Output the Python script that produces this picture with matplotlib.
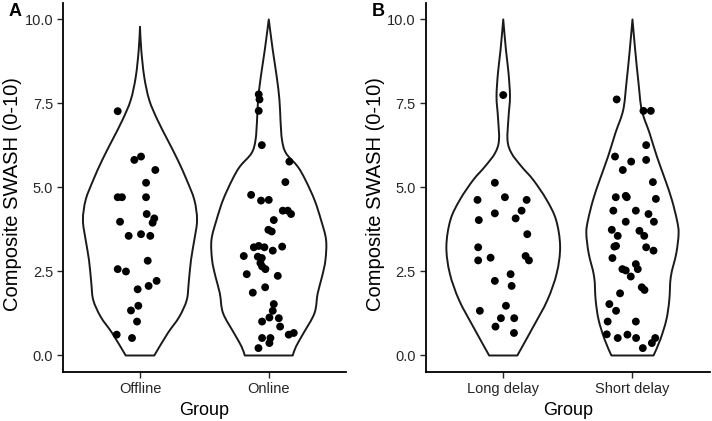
import numpy as np
import matplotlib
matplotlib.use("Agg")
import matplotlib.pyplot as plt
from matplotlib.path import Path
from matplotlib.patches import PathPatch

plt.rcParams['font.family'] = ['Liberation Sans', 'DejaVu Sans']

# ---------------------------------------------------------------
# Data
# ---------------------------------------------------------------
groups_a = ["Offline", "Online"]
groups_b = ["Long delay", "Short delay"]
yticks = [0.0, 2.5, 5.0, 7.5, 10.0]

# violin outlines: score level and half width (in category units)
offline_lv = [9.78, 9.09, 8.29, 7.60, 7.00, 6.41, 5.82, 5.22, 4.63, 4.03, 3.44, 2.84, 2.15, 1.65, 1.15, 0.66, 0.0]
offline_hw = [0, 0.010, 0.033, 0.072, 0.137, 0.215, 0.293, 0.363, 0.422, 0.443, 0.422, 0.396, 0.378, 0.363, 0.305, 0.215, 0.111]

online_lv = [10.0, 9.09, 8.29, 7.60, 7.00, 6.41, 6.02, 5.62, 5.22, 4.63, 4.03, 3.44, 2.84, 2.35, 1.85, 1.26, 0.66, 0.27, 0.0]
online_hw = [0, 0.031, 0.062, 0.083, 0.091, 0.103, 0.134, 0.225, 0.285, 0.355, 0.406, 0.445, 0.440, 0.414, 0.380, 0.355, 0.269, 0.212, 0.186]

long_lv = [10.0, 9.09, 8.4, 7.7, 7.1, 6.41, 6.02, 5.62, 5.22, 4.63, 4.03, 3.24, 2.45, 1.65, 0.86, 0.0]
long_hw = [0, 0.021, 0.041, 0.052, 0.041, 0.033, 0.064, 0.142, 0.233, 0.336, 0.409, 0.440, 0.414, 0.342, 0.233, 0.109]

short_lv = [10.0, 9.09, 8.1, 7.3, 6.62, 5.92, 5.22, 4.63, 4.03, 3.64, 3.04, 2.35, 1.65, 1.06, 0.47, 0.0]
short_hw = [0, 0.021, 0.047, 0.072, 0.132, 0.189, 0.254, 0.305, 0.344, 0.357, 0.339, 0.297, 0.285, 0.262, 0.215, 0.163]

# jittered points: horizontal offset from group centre, score
offline_dx = [-0.173, -0.044, 0.008, 0.119, 0.047, -0.173, -0.140, 0.047, 0.052, 0.111, 0.098, -0.155, -0.088,
              0.008, 0.080, 0.060, -0.173, -0.109, 0.129, 0.067, -0.018, -0.013, -0.070, -0.023, -0.181, -0.062]
offline_y = [7.27, 5.82, 5.92, 5.52, 5.14, 4.71, 4.71, 4.71, 4.21, 4.08, 3.95, 3.98, 3.56,
             3.61, 3.56, 2.82, 2.57, 2.50, 2.22, 2.07, 1.97, 1.48, 1.34, 1.01, 0.62, 0.52]

online_dx = [-0.078, -0.072, -0.078, -0.054, 0.160, 0.129, -0.137, -0.060, 0.0, 0.109, 0.148, 0.173, 0.039, -0.003,
             0.023, -0.116, -0.078, -0.034, 0.031, 0.104, -0.194, -0.085, -0.054, -0.065, -0.052, -0.026, -0.171,
             0.070, -0.028, -0.124, 0.039, 0.031, 0.005, 0.078, -0.052, 0.088, 0.155, 0.194, -0.052, 0.013, 0.005, -0.080]
online_y = [7.77, 7.62, 7.28, 6.26, 5.77, 5.16, 4.78, 4.61, 4.63, 4.31, 4.31, 4.21, 4.03, 3.74,
            3.69, 3.22, 3.26, 3.22, 3.12, 3.24, 2.96, 2.94, 2.90, 2.75, 2.65, 2.57, 2.42,
            2.37, 2.03, 1.87, 1.53, 1.33, 1.13, 1.11, 1.01, 0.86, 0.62, 0.67, 0.52, 0.52, 0.37, 0.22]

long_dx = [0.0, -0.065, -0.199, 0.013, 0.181, 0.142, -0.065, 0.096, -0.189, 0.186, -0.194, -0.194,
           -0.098, 0.173, 0.199, 0.057, -0.065, 0.065, -0.181, 0.021, -0.018, 0.085, -0.060, 0.083]
long_y = [7.75, 5.14, 4.63, 4.71, 4.63, 4.31, 4.23, 4.08, 4.03, 3.61, 3.22, 2.83,
          2.91, 2.96, 2.83, 2.42, 2.22, 2.07, 1.33, 1.48, 1.11, 1.11, 0.86, 0.67]

short_dx = [-0.122, 0.085, 0.142, 0.106, -0.135, -0.010, 0.106, -0.075, 0.158, -0.129, -0.052, -0.044, 0.181,
            -0.148, 0.026, 0.124, -0.052, 0.166, -0.160, -0.114, 0.054, 0.091, -0.127, -0.140, 0.106, 0.163,
            -0.155, -0.078, -0.052, -0.013, 0.026, 0.041, 0.072, 0.093, -0.096, -0.179, -0.127, -0.192, 0.026,
            -0.199, -0.114, -0.039, 0.028, 0.176, 0.150, 0.080]
short_y = [7.62, 7.28, 7.28, 6.26, 5.92, 5.77, 5.82, 5.52, 5.16, 4.71, 4.75, 4.71, 4.66,
           4.31, 4.31, 4.21, 3.98, 3.98, 3.74, 3.56, 3.71, 3.56, 3.26, 3.24, 3.22, 3.12,
           2.90, 2.57, 2.53, 2.35, 2.72, 2.57, 2.03, 1.95, 1.85, 1.53, 1.33, 1.01, 1.01,
           0.63, 0.52, 0.62, 0.52, 0.52, 0.37, 0.22]


def smooth_side(px, py):
    # Catmull-Rom through the read outline points, as cubic bezier pieces
    verts, codes = [], []
    n = len(px)
    P = list(zip(px, py))
    for k in range(n - 1):
        p0 = np.array(P[max(k - 1, 0)])
        p1 = np.array(P[k])
        p2 = np.array(P[k + 1])
        p3 = np.array(P[min(k + 2, n - 1)])
        c1 = p1 + (p2 - p0) / 6.0
        c2 = p2 - (p3 - p1) / 6.0
        verts += [tuple(c1), tuple(c2), tuple(p2)]
        codes += [Path.CURVE4] * 3
    return verts, codes


def violin_path(pos, lv, hw):
    lv = np.array(lv)
    hw = np.array(hw)
    # left side from top down, bottom edge, right side from bottom up
    verts = [(pos - hw[0], lv[0])]
    codes = [Path.MOVETO]
    v, c = smooth_side(pos - hw, lv)
    verts += v
    codes += c
    verts.append((pos + hw[-1], lv[-1]))
    codes.append(Path.LINETO)
    v, c = smooth_side((pos + hw)[::-1], lv[::-1])
    verts += v
    codes += c
    verts.append(verts[0])
    codes.append(Path.CLOSEPOLY)
    return Path(verts, codes)


def draw_panel(ax, labels, violins, points, tag):
    for i, (lv, hw) in enumerate(violins):
        patch = PathPatch(violin_path(i + 1, lv, hw), facecolor='white', edgecolor='#1a1a1a',
                          lw=1.4, joinstyle='round', zorder=2)
        ax.add_patch(patch)
    for i, (dx, y) in enumerate(points):
        ax.scatter(i + 1 + np.array(dx), y, s=32, color='black', edgecolors='none', zorder=3)

    ax.set_xlim(0.4, 2.6)
    ax.set_ylim(-0.5, 10.5)
    ax.set_xticks([1, 2])
    ax.set_xticklabels(labels)
    ax.set_yticks(yticks)
    ax.set_yticklabels(["%.1f" % t for t in yticks])
    ax.tick_params(labelsize=10.5, labelcolor='#262626', color='#262626', width=1.0, length=4, pad=3)
    for s in ['top', 'right']:
        ax.spines[s].set_visible(False)
    for s in ['left', 'bottom']:
        ax.spines[s].set_linewidth(1.3)
    ax.set_xlabel("Group", fontsize=13, labelpad=4)
    ax.set_ylabel("Composite SWASH (0-10)", fontsize=14.5)
    ax.yaxis.set_label_coords(-0.1435, 0.481)
    ax.text(-0.19, 1.0, tag, transform=ax.transAxes, fontsize=13, fontweight='bold', va='top', ha='left')


fig = plt.figure(figsize=(7.12, 4.21), dpi=100)
ax_a = fig.add_axes([0.0881, 0.1157, 0.3979, 0.878])
ax_b = fig.add_axes([0.5979, 0.1157, 0.3993, 0.878])

draw_panel(ax_a, groups_a, [(offline_lv, offline_hw), (online_lv, online_hw)],
           [(offline_dx, offline_y), (online_dx, online_y)], "A")
draw_panel(ax_b, groups_b, [(long_lv, long_hw), (short_lv, short_hw)],
           [(long_dx, long_y), (short_dx, short_y)], "B")

fig.savefig("out.png", dpi=100)
